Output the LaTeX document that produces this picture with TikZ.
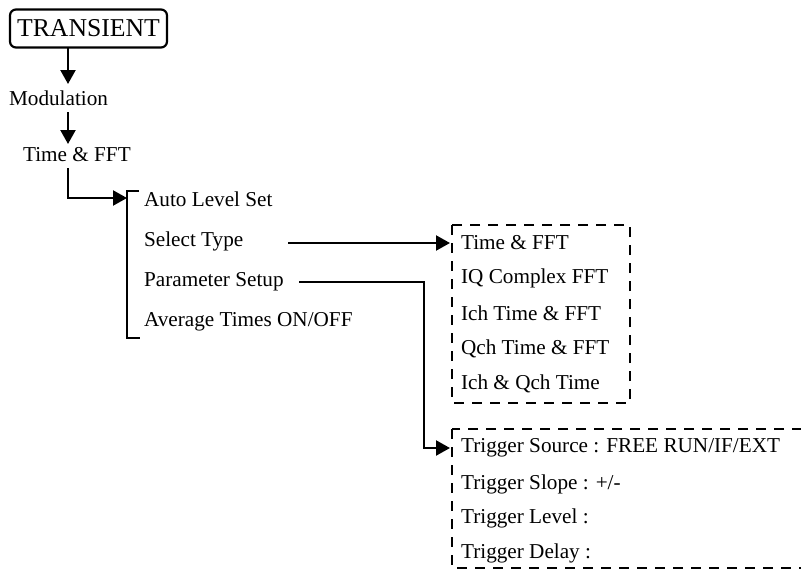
\documentclass[tikz,border=0pt]{standalone}
\usepackage{fontspec}
\setmainfont{Liberation Serif}
\usetikzlibrary{arrows.meta}
\begin{document}
\begin{tikzpicture}[x=1pt,y=-1pt,
  line width=2.2pt,
  arr/.style={-{Triangle[length=14pt,width=15pt]}},
  lbl/.style={anchor=west,inner sep=0pt,font=\fontsize{21.2}{24}\selectfont},
  dbox/.style={draw,dashed,dash pattern=on 10pt off 8pt,line width=2.2pt}]
\useasboundingbox (0,0) rectangle (801,571);
% top
\node[draw,rounded corners=6pt,inner sep=0pt,minimum width=157pt,minimum height=38pt,
  font=\fontsize{25.7}{28}\selectfont] (tr) at (88.5,28.5) {TRANSIENT};
\node[lbl] (mod) at (8,98) {Modulation};
\node[lbl] (tf) at (22,155) {Time \& FFT};
\draw[arr] (68,47) -- (68,84);
\draw[arr] (68,112) -- (68,144);
% bracket
\coordinate (bt) at (127,198);
\draw (139,191) -- (127,191) -- (127,338) -- (140,338);
\draw[arr] (68,168) |- (bt);
\node[lbl] (als) at (143,199) {Auto Level Set};
\node[lbl] (st) at (143,241) {Select Type};
\node[lbl] (ps) at (143,282) {Parameter Setup};
\node[lbl] (at) at (143,322) {Average Times ON/OFF};
% box 1
\draw[dbox] (452,225) rectangle (630,403);
\coordinate (b1) at (450,243);
\node[lbl] (t1) at (460,243) {Time \& FFT};
\node[lbl] (t2) at (460,278) {IQ Complex FFT};
\node[lbl] (t3) at (460,313) {Ich Time \& FFT};
\node[lbl] (t4) at (460,349) {Qch Time \& FFT};
\node[lbl] (t5) at (460,384) {Ich \& Qch Time};
\draw[arr] (288,243) -- (b1);
% box 2
\draw[dbox] (452,429) rectangle (830,568);
\coordinate (b2) at (450,448);
\node[lbl] (r1) at (460,448) {Trigger Source : FREE RUN/IF/EXT};
\node[lbl] (r2) at (460,484) {Trigger Slope : +/-};
\node[lbl] (r3) at (460,518) {Trigger Level :};
\node[lbl] (r4) at (460,553) {Trigger Delay :};
\draw[arr] (299,282) -- (424,282) |- (b2);
\end{tikzpicture}
\end{document}
